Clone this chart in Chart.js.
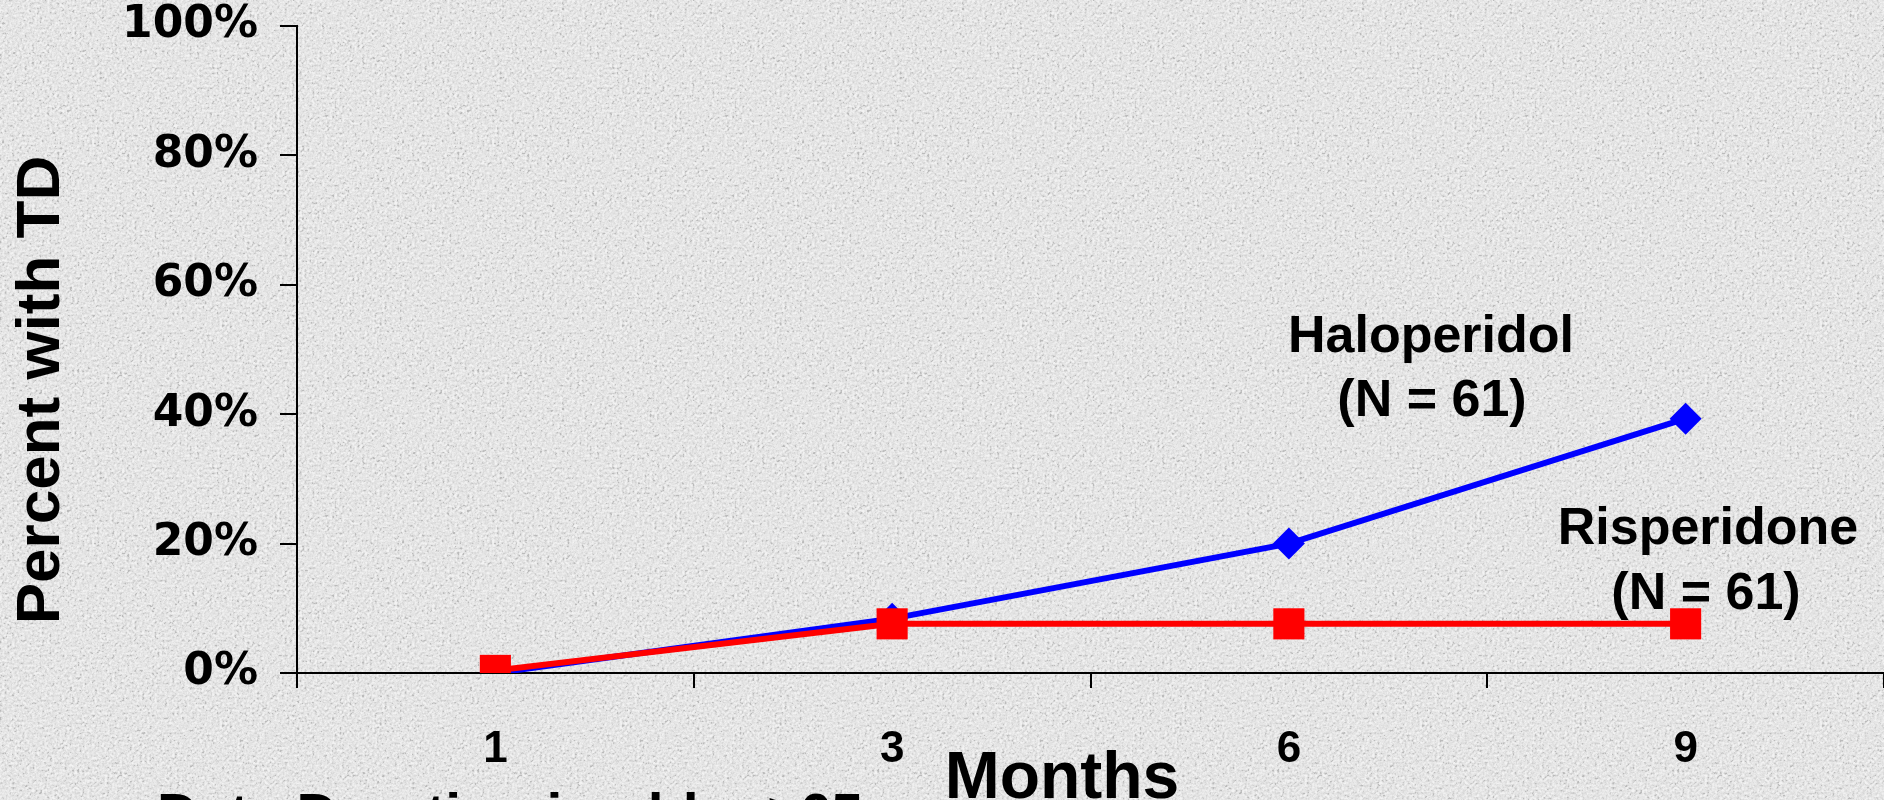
<!DOCTYPE html>
<html>
<head>
<meta charset="utf-8">
<script src="https://cdn.jsdelivr.net/npm/chart.js@4/dist/chart.umd.min.js"></script>
<style>
  html, body { margin: 0; padding: 0; }
  body {
    width: 1884px; height: 800px; overflow: hidden;
    background-color: #f0f0f0;
    background-image: url("data:image/svg+xml;utf8,<svg xmlns='http://www.w3.org/2000/svg' width='400' height='400'><filter id='n'><feTurbulence type='fractalNoise' baseFrequency='0.4' numOctaves='3' stitchTiles='stitch'/><feColorMatrix type='matrix' values='1.1 1.1 1.1 0 -1.15  1.1 1.1 1.1 0 -1.15  1.1 1.1 1.1 0 -1.15  0 0 0 0 1'/></filter><rect width='100%' height='100%' filter='url(%23n)' opacity='0.22'/></svg>");
  }
  #wrap { position: absolute; left: 0; top: 0; width: 1884px; height: 800px; }
</style>
</head>
<body>
<div id="wrap"><canvas id="chart" width="1884" height="800"></canvas></div>
<script>
// months on the x axis
var months = ['1', '3', '6', '9'];
// percent of patients with tardive dyskinesia
var haloperidol = [0, 8.4, 20, 39.3];
var risperidone = [0.4, 7.6, 7.6, 7.6];
var yTicks = [0, 20, 40, 60, 80, 100];

var seriesLabels = {
  halo: ['Haloperidol', '(N = 61)'],
  risp: ['Risperidone', '(N = 61)']
};
var yTitle = 'Percent with TD';
var xTitle = 'Months';
var footNote = 'Data Duration in older ≥65';

var BOLD = 'bold ';
var ARIAL = '"Liberation Sans", Arial, sans-serif';

// free text on the slide: series names, axis titles, cut-off note
var slideText = {
  id: 'slideText',
  beforeDatasetsDraw: function (chart) {
    var ctx = chart.ctx;
    ctx.save();
    ctx.fillStyle = '#000';
    ctx.textAlign = 'center';
    ctx.textBaseline = 'middle';
    ctx.font = BOLD + '52px ' + ARIAL;
    ctx.fillText(seriesLabels.halo[0], 1431, 338);
    ctx.fillText(seriesLabels.halo[1], 1432, 402);
    ctx.fillText(seriesLabels.risp[0], 1708, 530);
    ctx.fillText(seriesLabels.risp[1], 1706, 595);

    ctx.font = BOLD + '62px ' + ARIAL;
    ctx.translate(42, 390);
    ctx.rotate(-Math.PI / 2);
    ctx.fillText(yTitle, 0, 0);
    ctx.restore();

    ctx.save();
    ctx.fillStyle = '#000';
    ctx.textAlign = 'center';
    ctx.textBaseline = 'alphabetic';
    ctx.font = BOLD + '66px ' + ARIAL;
    ctx.fillText(xTitle, 1062, 798);
    ctx.textAlign = 'left';
    ctx.font = BOLD + '57px ' + ARIAL;
    ctx.fillText(footNote, 157, 834);
    ctx.restore();
  }
};

var ctx = document.getElementById('chart').getContext('2d');
var chart = new Chart(ctx, {
  type: 'line',
  data: {
    labels: months,
    datasets: [
      {
        label: 'Haloperidol',
        data: haloperidol,
        borderColor: '#0000ff',
        backgroundColor: '#0000ff',
        borderWidth: 6,
        pointStyle: 'rectRot',
        pointRadius: 16,
        pointBorderWidth: 0,
        tension: 0,
        order: 2
      },
      {
        label: 'Risperidone',
        data: risperidone,
        borderColor: '#ff0000',
        backgroundColor: '#ff0000',
        borderWidth: 6,
        pointStyle: 'rect',
        pointRadius: 22,
        pointBorderWidth: 0,
        tension: 0,
        order: 1
      }
    ]
  },
  options: {
    responsive: false,
    animation: false,
    layout: {
      autoPadding: false,
      padding: { top: 26, right: 0, left: 0, bottom: 0 }
    },
    plugins: {
      legend: { display: false },
      tooltip: { enabled: false }
    },
    scales: {
      x: {
        offset: true,
        grid: {
          display: true,
          offset: true,
          drawOnChartArea: false,
          drawTicks: true,
          tickLength: 15,
          color: '#000',
          lineWidth: 2
        },
        border: { display: true, color: '#000', width: 2 },
        ticks: {
          color: '#000',
          padding: 35,
          font: { family: ARIAL, size: 44, weight: 'bold' }
        },
        afterFit: function (scale) {
          scale.height = 127;
          scale.paddingLeft = 0;
          scale.paddingRight = 0;
        }
      },
      y: {
        min: 0,
        max: 100,
        afterBuildTicks: function (scale) {
          scale.ticks = yTicks.map(function (v) { return { value: v }; });
        },
        grid: {
          display: true,
          drawOnChartArea: false,
          drawTicks: true,
          tickLength: 17,
          color: '#000',
          lineWidth: 2
        },
        border: { display: true, color: '#000', width: 2 },
        ticks: {
          color: '#000',
          padding: 22,
          font: { family: '"DejaVu Sans", sans-serif', size: 44, weight: 'bold' },
          callback: function (v) { return v + '%'; }
        },
        afterFit: function (scale) {
          scale.width = 297;
          scale.paddingTop = 0;
          scale.paddingBottom = 0;
        }
      }
    }
  },
  plugins: [slideText]
});
</script>
</body>
</html>
